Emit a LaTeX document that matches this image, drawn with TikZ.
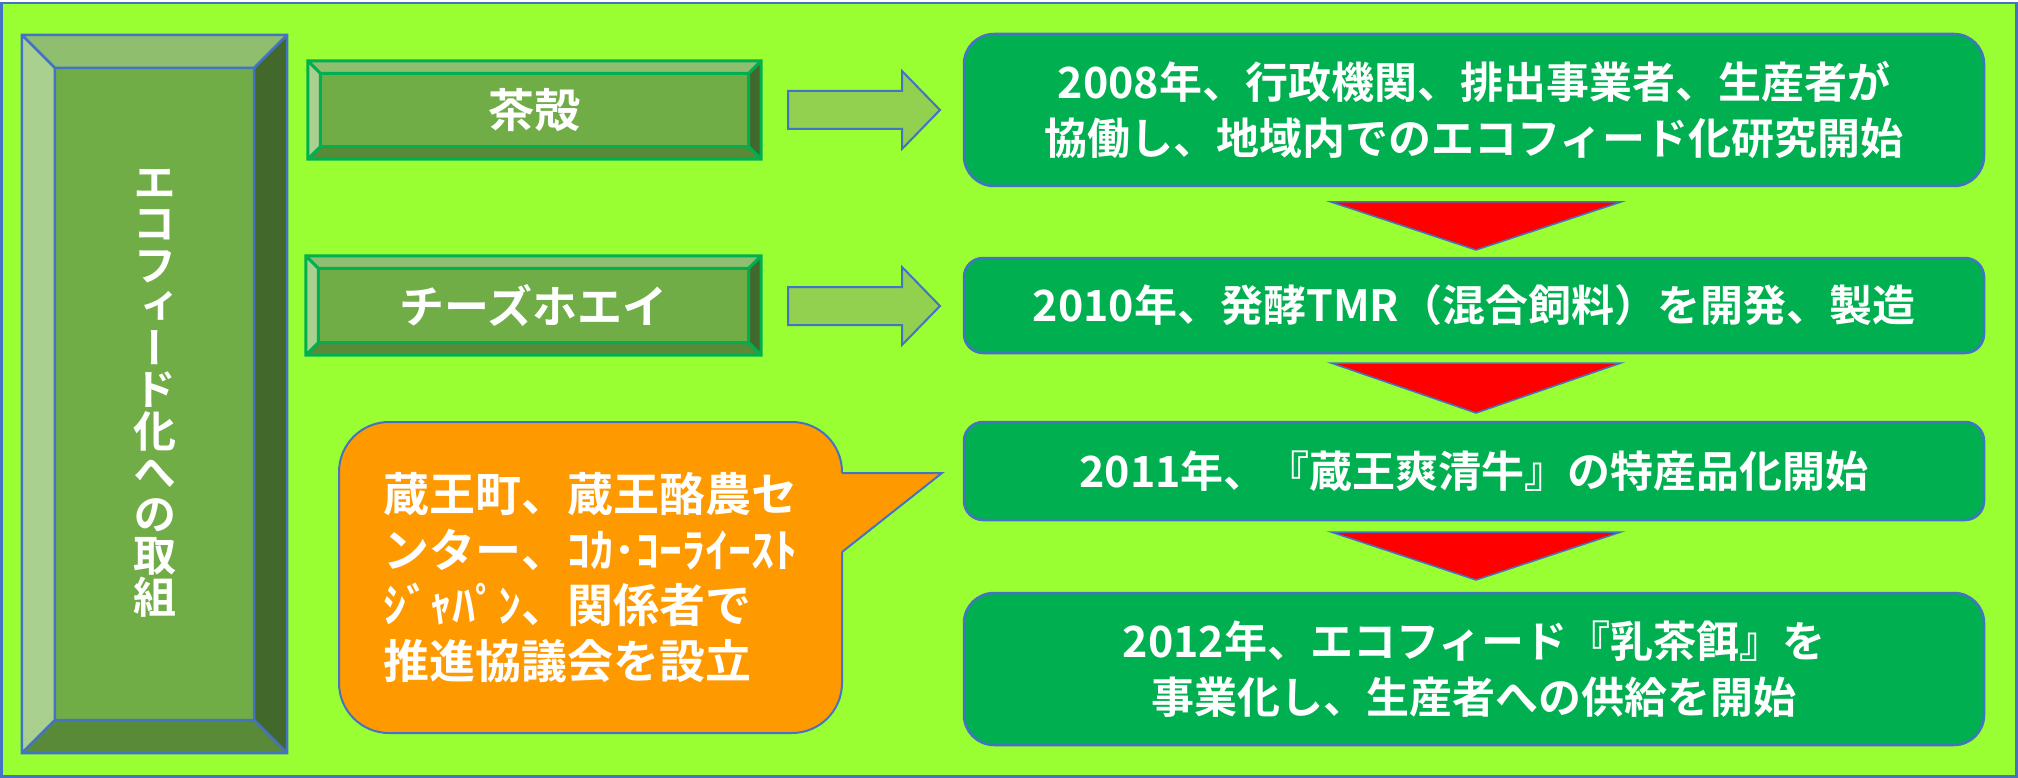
\documentclass[tikz,border=0pt]{standalone}
\usepackage{fontspec}
\setmainfont{Noto Sans CJK JP}[BoldFont={Noto Sans CJK JP Bold}]
\newfontfamily\jpvert{Noto Sans CJK JP Bold}[RawFeature={+vert}]
\usetikzlibrary{calc}
\definecolor{bg}{RGB}{153,255,51}
\definecolor{frame}{RGB}{68,114,196}
\definecolor{face}{RGB}{112,173,71}
\definecolor{bevtop}{RGB}{143,190,110}
\definecolor{bevleft}{RGB}{169,208,142}
\definecolor{bevright}{RGB}{67,104,43}
\definecolor{bevbot}{RGB}{89,138,55}
\definecolor{boxgreen}{RGB}{0,176,80}
\definecolor{arrowgreen}{RGB}{146,208,80}
\definecolor{calloutorange}{RGB}{255,153,0}
\newcommand{\vertsetup}{\jpvert\fontsize{43}{41.5}\selectfont\setlength{\lineskiplimit}{-50pt}\relax}
\tikzset{
  bevelface/.style={rectangle, fill=face, inner sep=0pt, text=white, align=center},
  stepbox/.style={rectangle, rounded corners=#1, fill=boxgreen, draw=frame, line width=2.5pt,
    text=white, inner sep=0pt, align=center, minimum width=1020pt,
    font=\bfseries\fontsize{43}{56}\selectfont},
  blockarrow/.style={fill=arrowgreen, draw=frame, line width=2pt, line join=miter},
  downtri/.style={fill=red, draw=frame, line width=1.5pt, line join=miter},
  calloutbox/.style={rectangle, rounded corners=50pt, fill=calloutorange, draw=frame, line width=2pt,
    text=white, inner sep=0pt, align=left, font=\bfseries\fontsize{46}{55.5}\selectfont},
}
\newcommand{\bevelframe}[4]{%
  \coordinate (bNW) at ($(#1.north west)+(#2,#2)$);
  \coordinate (bNE) at ($(#1.north east)+(-#2,#2)$);
  \coordinate (bSW) at ($(#1.south west)+(#2,-#2)$);
  \coordinate (bSE) at ($(#1.south east)+(-#2,-#2)$);
  \fill[bevtop] (#1.north west) -- (#1.north east) -- (bNE) -- (bNW) -- cycle;
  \fill[bevleft] (#1.north west) -- (bNW) -- (bSW) -- (#1.south west) -- cycle;
  \fill[bevright] (#1.north east) -- (#1.south east) -- (bSE) -- (bNE) -- cycle;
  \fill[bevbot] (#1.south west) -- (bSW) -- (bSE) -- (#1.south east) -- cycle;
  \draw[#3, line width=#4, line join=miter]
    (#1.north west) rectangle (#1.south east)
    (bNW) rectangle (bSE)
    (#1.north west) -- (bNW) (#1.north east) -- (bNE)
    (#1.south west) -- (bSW) (#1.south east) -- (bSE);
}
\begin{document}
\begin{tikzpicture}[x=1pt,y=-1pt]
\useasboundingbox (0,0) rectangle (2018,778);
\draw[fill=bg, draw=frame, line width=2.5pt] (1.5,3) rectangle (2016.5,776.5);

% left beveled box
\node[bevelface, minimum width=265pt, minimum height=718pt] (lbox) at (154.5,394) {};
\bevelframe{lbox}{33}{frame}{2.5pt}
\node[text=white, align=center, inner sep=0pt, font=\vertsetup] (ltext) at (155,393)
  {エ\\コ\\フ\\ィ\\ー\\ド\\化\\へ\\の\\取\\組};

% small beveled boxes
\node[bevelface, minimum width=453pt, minimum height=98pt] (chagara) at (534.5,110) {};
\bevelframe{chagara}{12.5}{boxgreen}{3pt}
\node[text=white, font=\bfseries\fontsize{46}{50}\selectfont] (chagaratext) at (chagara.center) {茶殻};

\node[bevelface, minimum width=455pt, minimum height=99pt] (whey) at (533.5,305.5) {};
\bevelframe{whey}{12.5}{boxgreen}{3pt}
\node[text=white, font=\bfseries\fontsize{45}{50}\selectfont] (wheytext) at (whey.center) {チーズホエイ};

% block arrows
\draw[blockarrow] (788,91) -- (902,91) -- (902,71) -- (940,110) -- (902,149) -- (902,129) -- (788,129) -- cycle;
\draw[blockarrow] (788,287) -- (902,287) -- (902,267) -- (940,306) -- (902,345) -- (902,325) -- (788,325) -- cycle;

% timeline boxes
\node[stepbox=30pt, minimum height=152pt] (s1) at (1474,110)
  {2008年、行政機関、排出事業者、生産者が\\協働し、地域内でのエコフィード化研究開始};
\node[stepbox=19pt, minimum height=95pt] (s2) at (1474,305.5)
  {2010年、発酵TMR（混合飼料）を開発、製造};
\node[stepbox=19pt, minimum height=98pt] (s3) at (1474,471)
  {2011年、『蔵王爽清牛』の特産品化開始};
\node[stepbox=30pt, minimum height=152pt] (s4) at (1474,669)
  {2012年、エコフィード『乳茶餌』を\\事業化し、生産者への供給を開始};

% red down triangles
\draw[downtri] (1331,202) -- (1621,202) -- (1476,250) -- cycle;
\draw[downtri] (1331,363) -- (1621,363) -- (1476,413) -- cycle;
\draw[downtri] (1331,532) -- (1621,532) -- (1476,580) -- cycle;

% callout
\node[calloutbox, minimum width=503pt, minimum height=311pt] (council) at (590.5,577.5)
  {蔵王町、蔵王酪農セ\\ンター、ｺｶ･ｺｰﾗｲｰｽﾄ\\ｼﾞｬﾊﾟﾝ、関係者で\\推進協議会を設立};
\coordinate (tip) at (942,473);
\fill[calloutorange] (836,473) -- (tip) -- (842,552) -- (836,552) -- cycle;
\draw[frame, line width=2pt, line join=miter] (842,473) -- (tip) -- (842,552);
\end{tikzpicture}
\end{document}
